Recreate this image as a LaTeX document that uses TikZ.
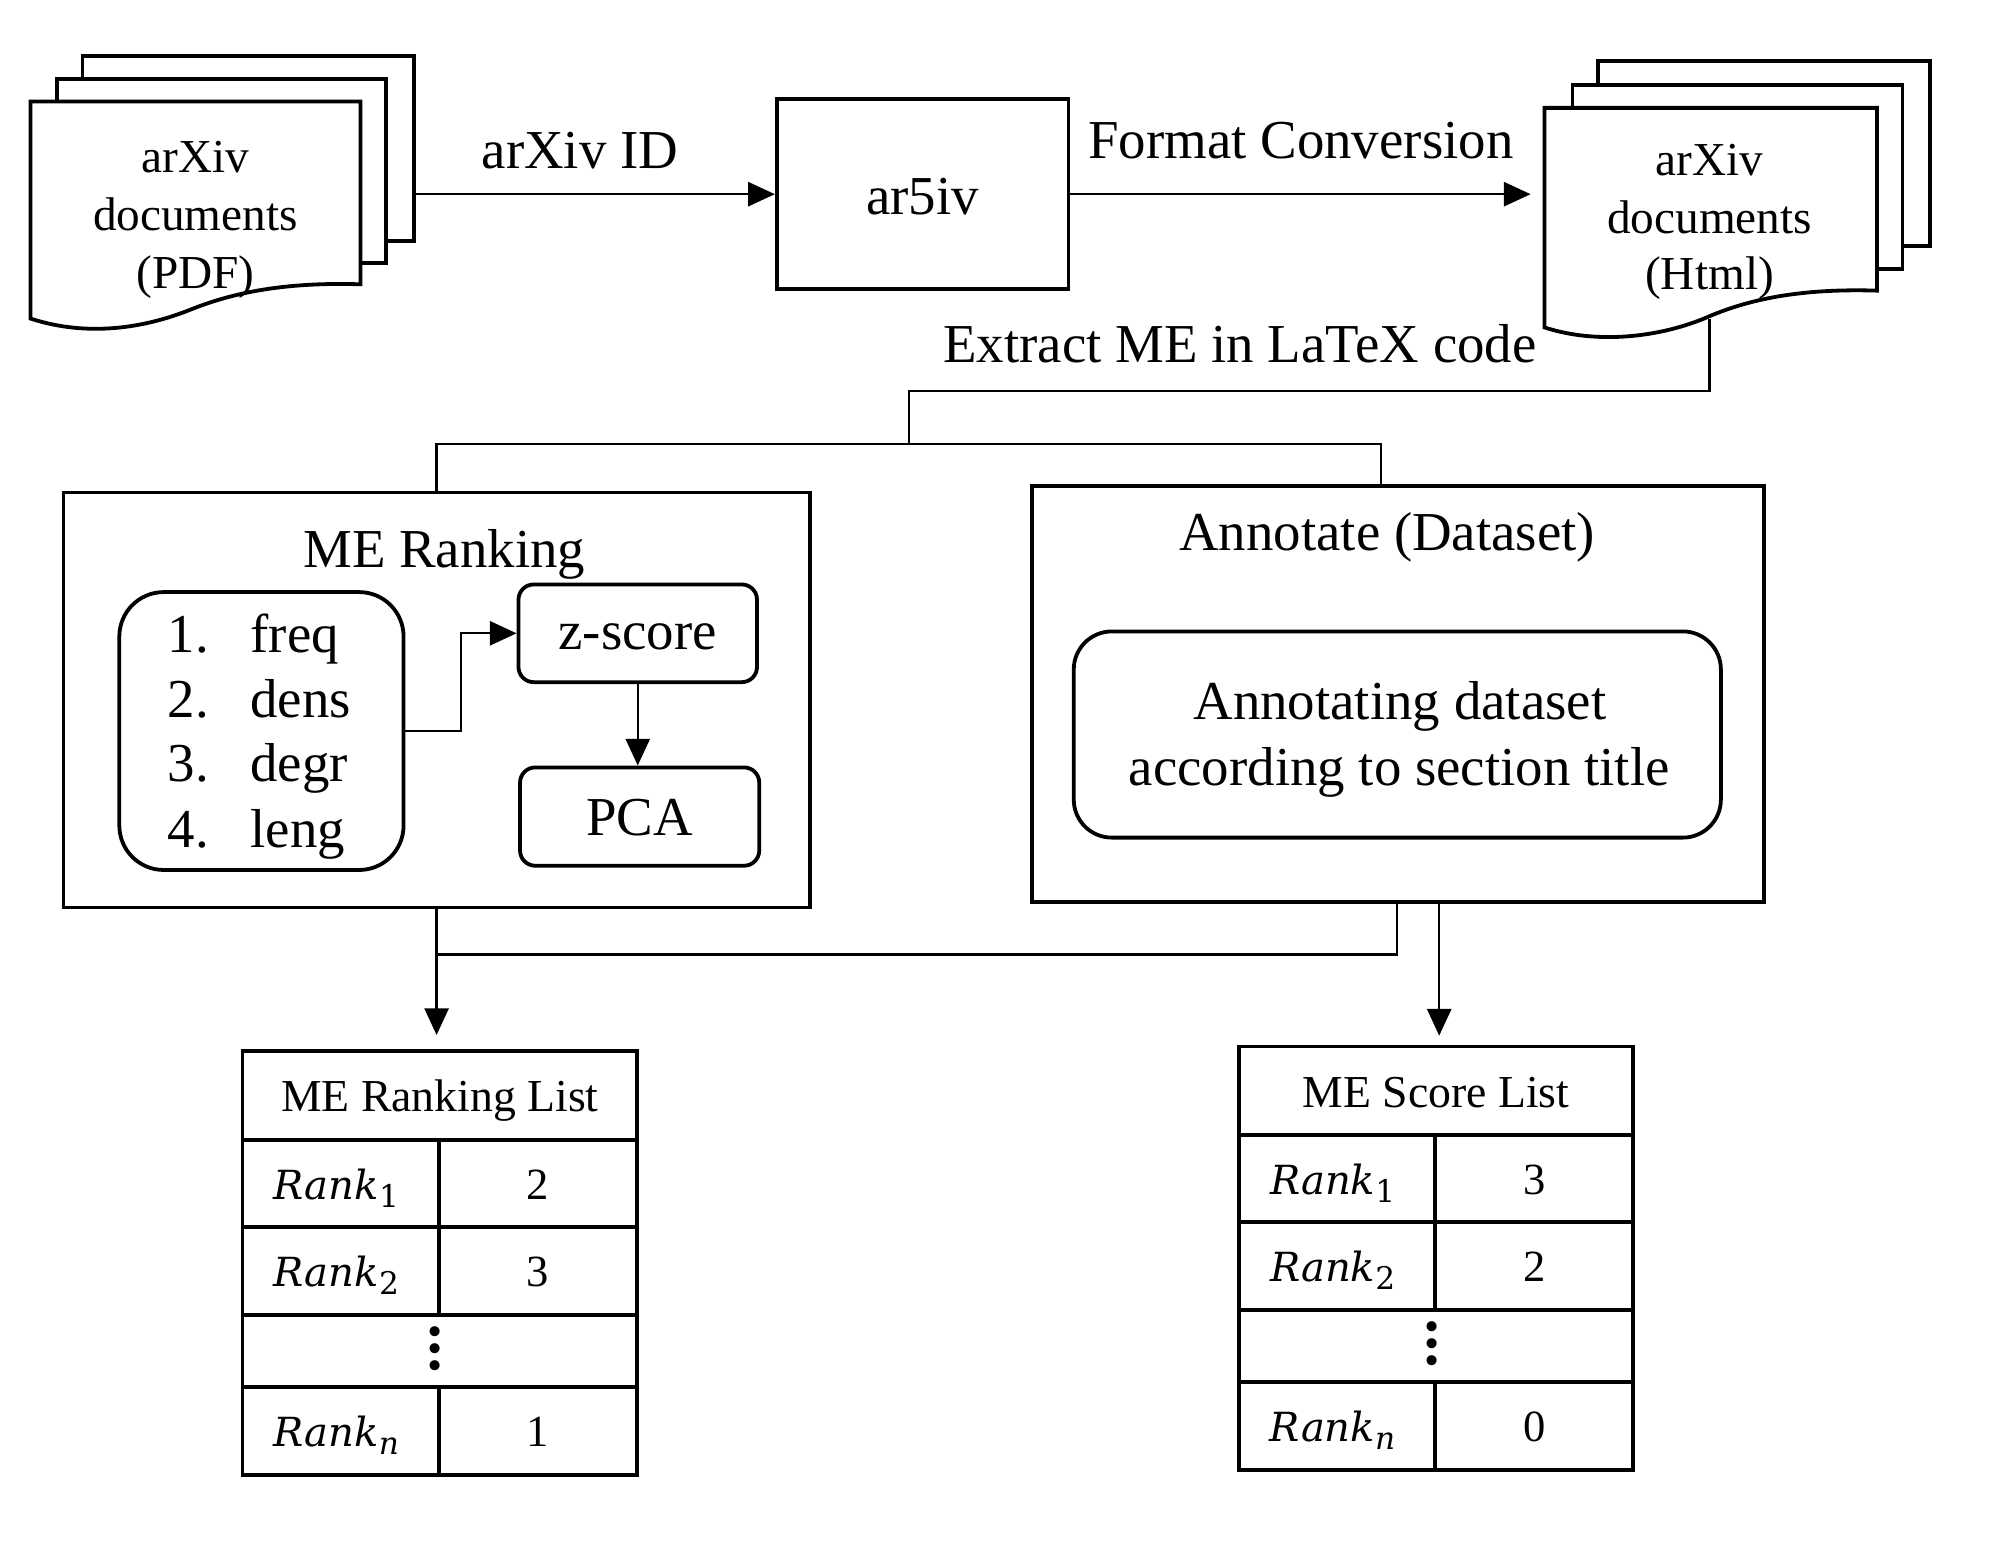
\documentclass[tikz,border=0pt]{standalone}
\usepackage{fontspec}
\setmainfont{Liberation Serif}
\newfontfamily\rankfont{DejaVu Serif}
\usetikzlibrary{arrows.meta}
\newcommand\mainsz{\fontsize{24.6pt}{29.6pt}\selectfont}
\newcommand\pagesz{\fontsize{21.2pt}{25.6pt}\selectfont}
\newcommand\tabsz{\fontsize{20.5pt}{23pt}\selectfont}
\newcommand\numsz{\fontsize{20pt}{22pt}\selectfont}
\newcommand\rk[1]{{\fontsize{18pt}{20pt}\rankfont\itshape Rank}\raisebox{-3.6pt}{\fontsize{14pt}{15pt}\rankfont #1}}
\newcommand\vdotsym{{\fontsize{38pt}{7.6pt}\selectfont\vbox{\baselineskip=7.6pt\lineskiplimit=-30pt\lineskip=0pt\hbox{.}\hbox{.}\hbox{.}}}}
\begin{document}
\begin{tikzpicture}[x=0.02cm,y=-0.02cm,
  thk/.style={line width=0.06cm},
  conn/.style={line width=0.035cm},
  arr/.style={conn,-{Triangle[length=0.42cm,width=0.38cm]}},
  pagebox/.style={draw,thk,fill=white,inner sep=0pt},
  bigbox/.style={draw,thk,inner sep=0pt},
  rbox/.style={draw,thk,rounded corners=#1,inner sep=0pt},
  rbox/.default=0.24cm,
  txt/.style={inner sep=0pt,font=\mainsz},
  ptxt/.style={inner sep=0pt,font=\pagesz},
  cell/.style={draw,thk,inner sep=0pt,minimum width=3.1cm,minimum height=#1},
  cell/.default=1.38cm,
  htxt/.style={inner sep=0pt,font=\tabsz},
  ntxt/.style={inner sep=0pt,font=\numsz},
]
\useasboundingbox (0,0) rectangle (1568,1221.3);

% ---------- left page stack (PDF)
\node[pagebox,minimum width=5.22cm,minimum height=2.92cm] (pdfback) at (195.5,117) {};
\node[pagebox,minimum width=5.18cm,minimum height=2.90cm] (pdfmid) at (174.5,134.5) {};
\draw[thk,fill=white] (24,80) -- (284,80) -- (284,224)
  .. controls (220,222) and (180,232) .. (150,244)
  .. controls (115,258) and (70,266) .. (24,251) -- cycle;
\node[ptxt,anchor=base] (pdf1) at (154,136) {arXiv};
\node[ptxt,anchor=base] (pdf2) at (154,182) {documents};
\node[ptxt,anchor=base] (pdf3) at (154,227) {(PDF)};

% ---------- ar5iv
\node[bigbox,minimum width=4.6cm,minimum height=3.0cm] (ar5iv) at (727,153) {};
\node[txt,anchor=base] (ar5ivtxt) at (727,169) {ar5iv};

% ---------- right page stack (Html)
\node[pagebox,minimum width=5.24cm,minimum height=2.92cm] (htmlback) at (1390,121) {};
\node[pagebox,minimum width=5.20cm,minimum height=2.90cm] (htmlmid) at (1369,139.5) {};
\draw[thk,fill=white] (1217,85) -- (1479,85) -- (1479,229)
  .. controls (1415,227) and (1375,237) .. (1345,250)
  .. controls (1310,265) and (1260,272) .. (1217,258) -- cycle;
\node[ptxt,anchor=base] (html1) at (1347,138) {arXiv};
\node[ptxt,anchor=base] (html2) at (1347,184) {documents};
\node[ptxt,anchor=base] (html3) at (1347,228) {(Html)};
\coordinate (htmlin) at (1206,153);
\coordinate (htmlbot) at (1347,251);

% ---------- top arrows and labels
\draw[arr] (pdfback.east |- ar5iv.west) -- (ar5iv.west);
\node[txt,anchor=base] (idlbl) at (457,133) {arXiv ID};
\draw[arr] (ar5iv.east) -- (htmlin);
\node[txt,anchor=base] (fclbl) at (1025,125) {Format Conversion};
\node[txt,anchor=base] (exlbl) at (977,286) {Extract ME in LaTeX code};

% ---------- ME Ranking box
\node[bigbox,minimum width=11.76cm,minimum height=6.54cm] (merank) at (344,551.5) {};
\node[txt,anchor=base] (mertitle) at (350,447) {ME Ranking};
\node[rbox=0.7cm,minimum width=4.48cm,minimum height=4.38cm] (listbox) at (206,576) {};
\node[txt,anchor=base west] (n1) at (132,514) {1.};
\node[txt,anchor=base west] (w1) at (197,514) {freq};
\node[txt,anchor=base west] (n2) at (132,565) {2.};
\node[txt,anchor=base west] (w2) at (197,565) {dens};
\node[txt,anchor=base west] (n3) at (132,616) {3.};
\node[txt,anchor=base west] (w3) at (197,616) {degr};
\node[txt,anchor=base west] (n4) at (132,668) {4.};
\node[txt,anchor=base west] (w4) at (197,668) {leng};
\node[rbox,minimum width=3.76cm,minimum height=1.54cm] (zscore) at (502.5,499) {};
\node[txt,anchor=base] (zstxt) at (502.5,512) {z-score};
\node[rbox,minimum width=3.77cm,minimum height=1.55cm] (pca) at (504,643.4) {};
\node[txt,anchor=base] (pcatxt) at (504,658) {PCA};
\draw[arr] (listbox.east) -- ++(44,0) |- (zscore.west);
\draw[arr] (zscore.south) -- (zscore.south |- pca.north);

% ---------- Annotate box
\node[bigbox,minimum width=11.54cm,minimum height=6.56cm] (anno) at (1101.5,547) {};
\node[txt,anchor=base] (annotitle) at (1093,434) {Annotate (Dataset)};
\node[rbox=0.6cm,minimum width=10.2cm,minimum height=3.25cm] (annoin) at (1101,578.75) {};
\node[txt,anchor=base] (annot1) at (1103,567) {Annotating dataset};
\node[txt,anchor=base] (annot2) at (1102.5,619) {according to section title};

% ---------- extraction connector
\coordinate (k1) at (716,308);
\coordinate (j1) at (716,350);
\coordinate (annotop) at (1088,383);
\draw[conn] (htmlbot) |- (k1) -- (j1);
\draw[conn] (merank.north) |- (j1) -| (annotop);

% ---------- left table
\node[cell,minimum width=6.22cm,minimum height=1.4cm] (rlhead) at (346.5,863) {};
\node[htxt,anchor=base] (rlheadtxt) at (346.5,876) {ME Ranking List};
\node[cell] (rla1) at (268.5,932.5) {};
\node[cell,minimum width=3.12cm] (rlb1) at (424,932.5) {};
\node[cell] (rla2) at (268.5,1001.5) {};
\node[cell,minimum width=3.12cm] (rlb2) at (424,1001.5) {};
\node[cell=1.14cm,minimum width=6.22cm] (rldots) at (346.5,1064.5) {};
\node[cell] (rlan) at (268.5,1127.5) {};
\node[cell,minimum width=3.12cm] (rlbn) at (424,1127.5) {};
\node[ntxt,anchor=base] (rlt1) at (265,945) {\rk{1}};
\node[ntxt,anchor=base] (rlv1) at (424,945) {2};
\node[ntxt,anchor=base] (rlt2) at (265,1014) {\rk{2}};
\node[ntxt,anchor=base] (rlv2) at (424,1014) {3};
\node[inner sep=0pt] (rldt) at (343,1063) {\vdotsym};
\node[ntxt,anchor=base] (rltn) at (265,1140) {\rk{\itshape n}};
\node[ntxt,anchor=base] (rlvn) at (424,1140) {1};

% ---------- right table
\node[cell,minimum width=6.22cm,minimum height=1.4cm] (slhead) at (1131.5,859.5) {};
\node[htxt,anchor=base] (slheadtxt) at (1131.5,872.5) {ME Score List};
\node[cell] (sla1) at (1053.5,928.5) {};
\node[cell,minimum width=3.12cm] (slb1) at (1209,928.5) {};
\node[cell] (sla2) at (1053.5,997.5) {};
\node[cell,minimum width=3.12cm] (slb2) at (1209,997.5) {};
\node[cell=1.14cm,minimum width=6.22cm] (sldots) at (1131.5,1060.5) {};
\node[cell] (slan) at (1053.5,1123.5) {};
\node[cell,minimum width=3.12cm] (slbn) at (1209,1123.5) {};
\node[ntxt,anchor=base] (slt1) at (1050,941) {\rk{1}};
\node[ntxt,anchor=base] (slv1) at (1209,941) {3};
\node[ntxt,anchor=base] (slt2) at (1050,1010) {\rk{2}};
\node[ntxt,anchor=base] (slv2) at (1209,1010) {2};
\node[inner sep=0pt] (sldt) at (1128,1059) {\vdotsym};
\node[ntxt,anchor=base] (sltn) at (1050,1136) {\rk{\itshape n}};
\node[ntxt,anchor=base] (slvn) at (1209,1136) {0};

% ---------- bottom connectors
\coordinate (annoout1) at (1101,711);
\coordinate (annoout2) at (1134,711);
\coordinate (j2) at (344,752);
\draw[arr,shorten >=0.22cm] (merank.south) -- (merank.south |- rlhead.north);
\draw[conn] (annoout1) |- (j2);
\draw[arr,shorten >=0.14cm] (annoout2) -- (annoout2 |- slhead.north);
\end{tikzpicture}
\end{document}
